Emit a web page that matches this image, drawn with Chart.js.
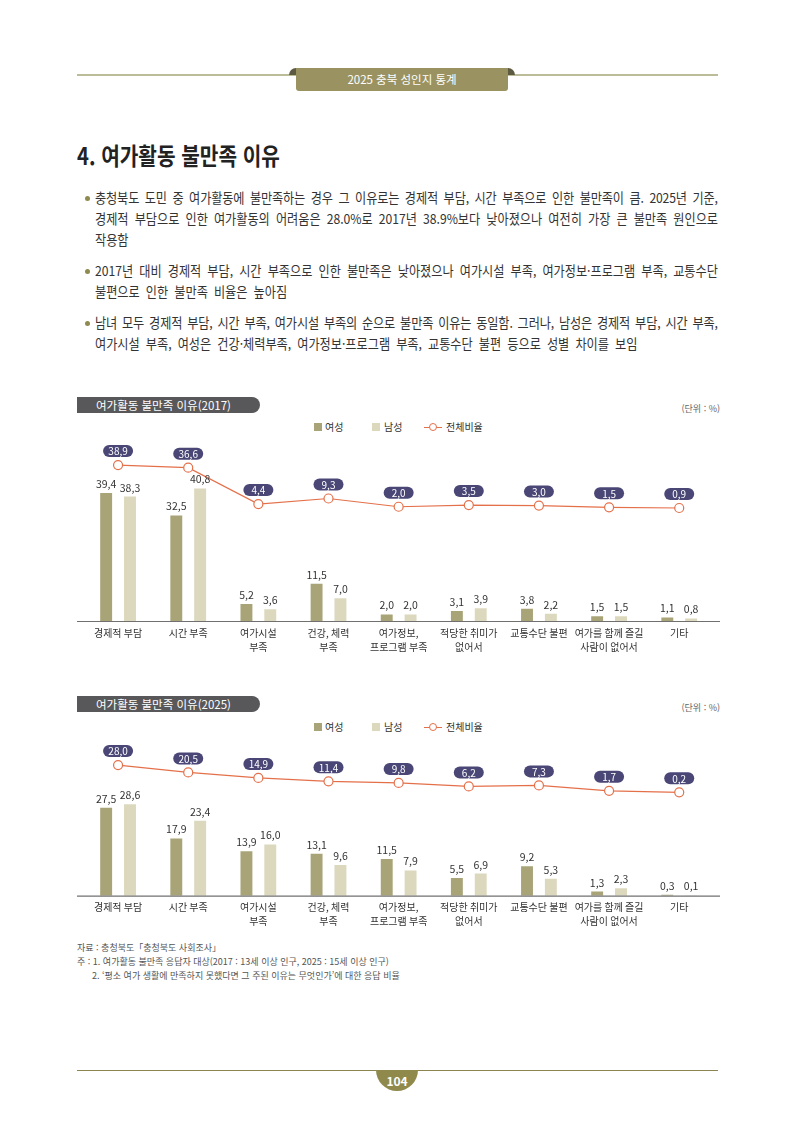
<!DOCTYPE html>
<html lang="ko">
<head>
<meta charset="utf-8">
<script src="https://cdn.jsdelivr.net/npm/chart.js@4.4.1/dist/chart.umd.min.js"></script>
<style>
  body { margin: 0; background: #fff; font-family: "Noto Sans CJK KR", "Noto Sans", sans-serif; color: #333; }
  #page { position: relative; width: 794px; height: 1123px; overflow: hidden; }
  .hline { position: absolute; left: 77px; width: 641px; height: 1.5px; }
  .tab { position: absolute; left: 296px; top: 68px; width: 212px; height: 23px; background: #9a9361; border-radius: 0 0 3px 3px;
         color: #fff; font-size: 11.5px; line-height: 23px; text-align: center; }
  .ear { position: absolute; top: 68px; width: 14px; height: 7px; background: #5d5a42; border-radius: 7px 7px 0 0; }
  .title { position: absolute; left: 77px; top: 140px; font-size: 23.5px; font-weight: 700; color: #222; white-space: nowrap;
           transform: scaleX(0.86); transform-origin: left top; line-height: 30px; }
  .bul { position: absolute; left: 95px; width: 692px; transform: scaleX(0.9); transform-origin: left top; font-size: 13.5px;
         color: #333; word-spacing: 3px; }
  .bul div { height: 21px; line-height: 21px; white-space: nowrap; }
  .bul .j { text-align: justify; text-align-last: justify; }
  .bul .t { word-spacing: 0; letter-spacing: -0.15px; }
  .dot { position: absolute; left: 85px; width: 5px; height: 5px; border-radius: 50%; background: #8f8a4e; }
  .cbar { position: absolute; left: 77px; height: 16px; background: #58585a; border-radius: 0 8px 8px 0; color: #fff;
          font-size: 11.5px; line-height: 16px; padding-left: 19px; box-sizing: border-box; white-space: nowrap; }
  .unit { position: absolute; right: 74px; font-size: 9px; color: #666; line-height: 12px; }
  .lgsq { position: absolute; width: 8px; height: 8px; }
  .lgtx { position: absolute; font-size: 10px; line-height: 12px; color: #333; white-space: nowrap; }
  .lgln { position: absolute; width: 18px; height: 1.2px; background: #e4704a; }
  .lgpt { position: absolute; width: 6px; height: 6px; border: 1.2px solid #e4704a; border-radius: 50%; background: #fff; }
  canvas { position: absolute; }
  .note { position: absolute; font-size: 9px; color: #555; line-height: 12px; white-space: nowrap; }
  .pg { position: absolute; left: 376px; top: 1070px; width: 42px; height: 21px; background: #8f8a4c; border-radius: 0 0 21px 21px;
        color: #fff; font-weight: 700; font-size: 12px; text-align: center; line-height: 22px; }
</style>
</head>
<body>
<div id="page">
  <div class="hline" style="top:74px;background:#bdbc98"></div>
  <div class="ear" style="left:289px"></div>
  <div class="ear" style="left:501px"></div>
  <div class="tab">2025 충북 성인지 통계</div>

  <div class="title">4. 여가활동 불만족 이유</div>

  <div class="dot" style="top:196px"></div>
  <div class="bul" style="top:187px">
    <div class="j t">충청북도 도민 중 여가활동에 불만족하는 경우 그 이유로는 경제적 부담, 시간 부족으로 인한 불만족이 큼. 2025년 기준,</div>
    <div class="j">경제적 부담으로 인한 여가활동의 어려움은 28.0%로 2017년 38.9%보다 낮아졌으나 여전히 가장 큰 불만족 원인으로</div>
    <div>작용함</div>
  </div>
  <div class="dot" style="top:269px"></div>
  <div class="bul" style="top:260px">
    <div class="j">2017년 대비 경제적 부담, 시간 부족으로 인한 불만족은 낮아졌으나 여가시설 부족, 여가정보·프로그램 부족, 교통수단</div>
    <div>불편으로 인한 불만족 비율은 높아짐</div>
  </div>
  <div class="dot" style="top:321px"></div>
  <div class="bul" style="top:312px">
    <div class="j t">남녀 모두 경제적 부담, 시간 부족, 여가시설 부족의 순으로 불만족 이유는 동일함. 그러나, 남성은 경제적 부담, 시간 부족,</div>
    <div>여가시설 부족, 여성은 건강·체력부족, 여가정보·프로그램 부족, 교통수단 불편 등으로 성별 차이를 보임</div>
  </div>

  <!-- chart 1 -->
  <div class="cbar" style="top:397px;width:183px">여가활동 불만족 이유(2017)</div>
  <div class="unit" style="top:403px">(단위 : %)</div>
  <div class="lgsq" style="left:314px;top:423px;background:#a9a478"></div>
  <div class="lgtx" style="left:325px;top:421px">여성</div>
  <div class="lgsq" style="left:372px;top:423px;background:#dcd8bd"></div>
  <div class="lgtx" style="left:384px;top:421px">남성</div>
  <div class="lgln" style="left:424px;top:426.5px"></div>
  <div class="lgpt" style="left:428.5px;top:422.5px"></div>
  <div class="lgtx" style="left:446px;top:421px">전체비율</div>
  <canvas id="c2017" width="643" height="225" style="left:77px;top:435px"></canvas>

  <!-- chart 2 -->
  <div class="cbar" style="top:696px;width:183px">여가활동 불만족 이유(2025)</div>
  <div class="unit" style="top:702px">(단위 : %)</div>
  <div class="lgsq" style="left:314px;top:723px;background:#a9a478"></div>
  <div class="lgtx" style="left:325px;top:721px">여성</div>
  <div class="lgsq" style="left:372px;top:723px;background:#dcd8bd"></div>
  <div class="lgtx" style="left:384px;top:721px">남성</div>
  <div class="lgln" style="left:424px;top:726.5px"></div>
  <div class="lgpt" style="left:428.5px;top:722.5px"></div>
  <div class="lgtx" style="left:446px;top:721px">전체비율</div>
  <canvas id="c2025" width="643" height="205" style="left:77px;top:730px"></canvas>

  <div class="note" style="left:77px;top:942px">자료 : 충청북도「충청북도 사회조사」</div>
  <div class="note" style="left:77px;top:956px">주 : 1. 여가활동 불만족 응답자 대상(2017 : 13세 이상 인구, 2025 : 15세 이상 인구)</div>
  <div class="note" style="left:92px;top:970px">2. ‘평소 여가 생활에 만족하지 못했다면 그 주된 이유는 무엇인가’에 대한 응답 비율</div>

  <div class="hline" style="top:1069.5px;height:1px;background:#8b8650"></div>
  <div class="pg">104</div>
</div>

<script>
const categories = [
  ["경제적 부담"], ["시간 부족"], ["여가시설", "부족"], ["건강, 체력", "부족"],
  ["여가정보,", "프로그램 부족"], ["적당한 취미가", "없어서"], ["교통수단 불편"],
  ["여가를 함께 즐길", "사람이 없어서"], ["기타"]
];
const women2017 = [39.4, 32.5, 5.2, 11.5, 2.0, 3.1, 3.8, 1.5, 1.1];
const men2017   = [38.3, 40.8, 3.6, 7.0, 2.0, 3.9, 2.2, 1.5, 0.8];
const total2017 = [38.9, 36.6, 4.4, 9.3, 2.0, 3.5, 3.0, 1.5, 0.9];
const women2025 = [27.5, 17.9, 13.9, 13.1, 11.5, 5.5, 9.2, 1.3, 0.3];
const men2025   = [28.6, 23.4, 16.0, 9.6, 7.9, 6.9, 5.3, 2.3, 0.1];
const total2025 = [28.0, 20.5, 14.9, 11.4, 9.8, 6.2, 7.3, 1.7, 0.2];

const FONT = '"Noto Sans CJK KR", "Noto Sans", sans-serif';
const fmt = (v) => v.toFixed(1).replace(".", ",");

// baseline, category labels, bar values and the little pills over the line
const marks = {
  id: "marks",
  afterDatasetsDraw(chart) {
    const ctx = chart.ctx;
    const y0 = chart.scales.y.getPixelForValue(0);
    ctx.save();
    ctx.strokeStyle = "#707070";
    ctx.lineWidth = 1.2;
    ctx.beginPath();
    ctx.moveTo(0, y0 + 0.5);
    ctx.lineTo(chart.width, y0 + 0.5);
    ctx.stroke();

    ctx.fillStyle = "#333";
    ctx.textAlign = "center";
    ctx.textBaseline = "middle";
    ctx.font = "10px " + FONT;
    chart.data.labels.forEach((lab, i) => {
      const x = chart.scales.x.getPixelForValue(i);
      lab.forEach((t, k) => ctx.fillText(t, x, y0 + 12 + k * 14));
    });

    ctx.font = "10.5px " + FONT;
    [0, 1].forEach((di) => {
      chart.getDatasetMeta(di).data.forEach((bar, i) => {
        ctx.fillText(fmt(chart.data.datasets[di].data[i]), bar.x, bar.y - 9);
      });
    });

    ctx.font = "10px " + FONT;
    chart.getDatasetMeta(2).data.forEach((pt, i) => {
      const cx = pt.x, cy = pt.y - 14;
      ctx.fillStyle = "#4a4776";
      ctx.beginPath();
      ctx.roundRect(cx - 15, cy - 6, 30, 12, 6);
      ctx.fill();
      ctx.fillStyle = "#fff";
      ctx.fillText(fmt(chart.data.datasets[2].data[i]), cx, cy + 0.5);
    });
    ctx.restore();
  }
};

function drawChart(id, women, men, total, pad, y2min, y2max) {
  new Chart(document.getElementById(id), {
    type: "bar",
    data: {
      labels: categories,
      datasets: [
        { label: "여성", data: women, backgroundColor: "#a9a478", categoryPercentage: 0.68, barPercentage: 0.5, order: 2 },
        { label: "남성", data: men, backgroundColor: "#dcd8bd", categoryPercentage: 0.68, barPercentage: 0.5, order: 2 },
        {
          type: "line", label: "전체비율", data: total, yAxisID: "y2", order: 1, clip: false,
          borderColor: "#e4704a", borderWidth: 1.2, pointRadius: 4.5, pointBorderWidth: 1.2,
          pointBackgroundColor: "#fff", pointBorderColor: "#e4704a", tension: 0
        }
      ]
    },
    options: {
      responsive: false,
      animation: false,
      layout: { padding: pad },
      plugins: { legend: { display: false }, tooltip: { enabled: false } },
      scales: {
        x: { display: false },
        y: { display: false, min: 0, max: 50 },
        y2: { display: false, position: "right", min: y2min, max: y2max }
      }
    },
    plugins: [marks]
  });
}

drawChart("c2017", women2017, men2017, total2017, { left: 6, right: 3.4, top: 23.5, bottom: 39 }, -99.1, 44.7);
drawChart("c2025", women2025, men2025, total2025, { left: 6, right: 3.4, top: 5.7, bottom: 39.3 }, -105.3, 58.0);
</script>
</body>
</html>
